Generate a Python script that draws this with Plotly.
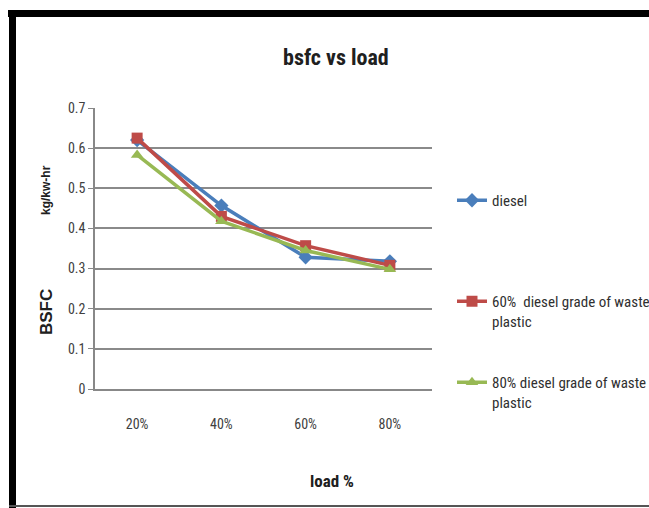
import plotly.graph_objects as go

loads = ["20%", "40%", "60%", "80%"]
diesel = [0.62, 0.457, 0.328, 0.318]
wp60 = [0.625, 0.43, 0.357, 0.308]
wp80 = [0.583, 0.418, 0.345, 0.298]
y_ticks = [0, 0.1, 0.2, 0.3, 0.4, 0.5, 0.6, 0.7]
y_tick_text = ["0", "0.1", "0.2", "0.3", "0.4", "0.5", "0.6", "0.7"]

W, H = 649, 508
L, R, T, B = 95, 432, 108, 389

def px(x):
    return (x - L) / (R - L)

def py(y):
    return (B - y) / (B - T)

NARROW = "Liberation Sans Narrow, Arial Narrow, Roboto Condensed, sans-serif"

fig = go.Figure()
series = [
    ("diesel", diesel, "#4A7EBB", "diamond", "legend", 184),
    ("60%  diesel grade of waste<br>plastic", wp60, "#BE4B48", "square", "legend2", 285),
    ("80% diesel grade of waste<br>plastic", wp80, "#98B954", "triangle-up", "legend3", 366),
]
legend_layouts = {}
for name, vals, col, sym, leg, top in series:
    fig.add_trace(go.Scatter(
        x=loads, y=vals, name=name, mode="lines+markers", legend=leg,
        line=dict(color=col, width=3.5),
        marker=dict(symbol=sym, size=11, color=col),
    ))
    legend_layouts[leg] = dict(
        x=px(452), y=py(top), xanchor="left", yanchor="top",
        valign="top", itemwidth=30,
        font=dict(family=NARROW, size=15, color="#303030"),
        bgcolor="rgba(0,0,0,0)",
    )

fig.update_layout(
    width=W, height=H,
    margin=dict(l=L, r=W - R, t=T, b=H - B, autoexpand=False),
    paper_bgcolor="white", plot_bgcolor="white",
    font=dict(family=NARROW, color="#404040", size=13),
    showlegend=True,
    xaxis=dict(
        type="category", range=[-0.5, 3.5], showgrid=False,
        showline=True, linecolor="#888888", linewidth=1.5,
        ticks="", tickfont=dict(size=14, color="#404040"),
        ticklabelstandoff=21,
    ),
    yaxis=dict(
        range=[0, 0.7], tickvals=y_ticks, ticktext=y_tick_text,
        showgrid=True, gridcolor="#8a8a8a", gridwidth=1.5,
        showline=True, linecolor="#888888", linewidth=1.5,
        ticks="outside", ticklen=5, tickcolor="#888888",
        tickfont=dict(size=14, color="#404040"),
        zeroline=False,
    ),
    **legend_layouts,
)

annotations = [
    dict(text="<b>bsfc vs load</b>", x=px(336), y=py(58),
         font=dict(size=22, family=NARROW, color="#202020")),
    dict(text="<b>load %</b>", x=px(332), y=py(481),
         font=dict(size=17, family=NARROW, color="#202020")),
    dict(text="<b>BSFC</b>", x=px(46), y=py(312), textangle=-90,
         font=dict(size=17, family="Liberation Sans, Arial, sans-serif", color="#202020")),
    dict(text="<b>kg/kw-hr</b>", x=px(46), y=py(190), textangle=-90,
         font=dict(size=12, family="Liberation Sans, Arial, sans-serif", color="#202020")),
]
for a in annotations:
    a.update(xref="paper", yref="paper", showarrow=False, xanchor="center", yanchor="middle")
fig.update_layout(annotations=annotations)

# picture frame (black border of the cropped image)
shapes = [
    dict(type="rect", x0=px(8), x1=px(W + 40), y0=py(10), y1=py(17),
         fillcolor="black", line=dict(width=0)),
    dict(type="rect", x0=px(9), x1=px(16), y0=py(10), y1=py(H + 5),
         fillcolor="black", line=dict(width=0)),
    dict(type="line", x0=px(9), x1=px(W + 40), y0=py(506), y1=py(506),
         line=dict(color="#555555", width=2)),
]
for s in shapes:
    s.update(xref="paper", yref="paper", layer="above")
fig.update_layout(shapes=shapes)

fig.write_html("out.html")
